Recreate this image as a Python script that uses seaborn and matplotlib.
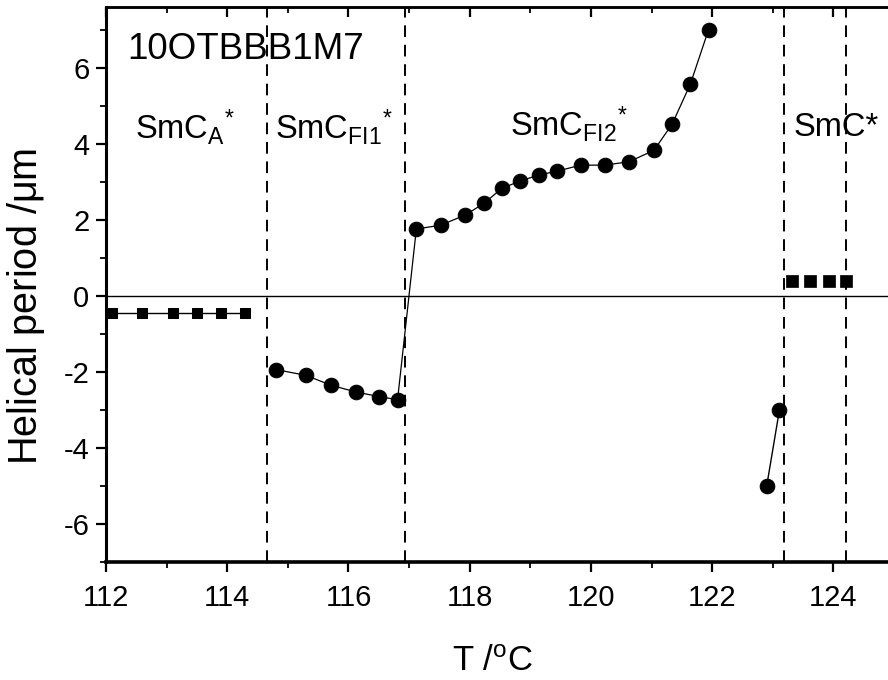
import matplotlib
matplotlib.use("Agg")
import matplotlib.pyplot as plt
import seaborn as sns

sns.set_style("ticks", {'text.color': 'black', 'axes.labelcolor': 'black',
                        'xtick.color': 'black', 'ytick.color': 'black',
                        'axes.edgecolor': 'black'})
plt.rcParams['font.family'] = ['Liberation Sans', 'DejaVu Sans']
plt.rcParams['mathtext.fontset'] = 'custom'
plt.rcParams['mathtext.rm'] = 'Liberation Sans'
plt.rcParams['mathtext.it'] = 'Liberation Sans'

# Data
smca_T = [112.1, 112.6, 113.1, 113.5, 113.9, 114.3]
smca_p = [-0.45, -0.45, -0.45, -0.45, -0.45, -0.45]

fi_T = [114.81, 115.30, 115.71, 116.13, 116.51, 116.81,
        117.12, 117.52, 117.93, 118.24, 118.53, 118.83, 119.14, 119.44,
        119.83, 120.23, 120.63, 121.04, 121.34, 121.64, 121.94]
fi_p = [-1.94, -2.09, -2.35, -2.53, -2.65, -2.73,
        1.76, 1.86, 2.13, 2.44, 2.83, 3.02, 3.18, 3.28,
        3.44, 3.44, 3.53, 3.83, 4.52, 5.57, 7.00]

c2_T = [122.90, 123.11]
c2_p = [-5.0, -3.0]

smc_T = [123.31, 123.61, 123.92, 124.21]
smc_p = [0.38, 0.38, 0.38, 0.38]

boundaries = [114.66, 116.93, 123.19, 124.21]

xticks = [112, 114, 116, 118, 120, 122, 124]
yticks = [-6, -4, -2, 0, 2, 4, 6]

fig = plt.figure(figsize=(8.88, 6.8), dpi=100)
ax = fig.add_axes([106/888, 1-562/680, 788/888, (562-7)/680])

sns.lineplot(x=smca_T, y=smca_p, ax=ax, marker='s', markersize=6.5, color='black',
             linewidth=1.0, markeredgecolor='black', estimator=None, sort=False)
sns.lineplot(x=fi_T, y=fi_p, ax=ax, marker='o', markersize=10.5, color='black',
             linewidth=0.9, markeredgecolor='black', estimator=None, sort=False)
sns.lineplot(x=c2_T, y=c2_p, ax=ax, marker='o', markersize=10.5, color='black',
             linewidth=1.0, markeredgecolor='black', estimator=None, sort=False)
sns.scatterplot(x=smc_T, y=smc_p, ax=ax, marker='s', s=75, color='black',
                edgecolor='black', linewidth=0.5)

for b in boundaries:
    ax.axvline(b, color='black', linestyle=(0, (6, 4)), linewidth=1.4, zorder=1)
ax.axhline(0, color='black', linewidth=1.0, zorder=1)

ax.set_xlim(112, 125)
ax.set_ylim(-7, 7.6)
ax.set_xticks(xticks)
ax.set_xticklabels([str(t) for t in xticks], fontsize=21)
ax.set_yticks(yticks)
ax.set_yticklabels([str(t) for t in yticks], fontsize=21)
ax.set_xticks([113, 115, 117, 119, 121, 123], minor=True)
ax.set_yticks([-7, -5, -3, -1, 1, 3, 5, 7], minor=True)
ax.tick_params(axis='both', which='major', direction='out', length=7, width=1.6)
ax.tick_params(axis='x', which='major', pad=9)
ax.tick_params(axis='y', which='major', pad=5)
ax.tick_params(axis='both', which='minor', direction='out', length=4, width=1.3)
ax.tick_params(axis='y', which='both', right=True, labelright=False)

sec = ax.secondary_xaxis('top')
sec.set_xticks(xticks)
sec.set_xticks([113, 115, 117, 119, 121, 123], minor=True)
sec.tick_params(which='major', direction='in', length=7, width=1.6, labeltop=False)
sec.tick_params(which='minor', direction='in', length=4, width=1.3)
sec.spines['top'].set_linewidth(1.8)

for s in ['left', 'bottom', 'top', 'right']:
    ax.spines[s].set_linewidth(1.8)
ax.spines['bottom'].set_linewidth(2.6)
ax.spines['left'].set_linewidth(2.2)

ax.set_xlabel(r'T /$^{\mathregular{o}}$C', fontsize=25)
ax.xaxis.set_label_coords((493-106)/788, (562-645)/555)
ax.set_ylabel(r'Helical period /$\mathregular{\mu}$m', fontsize=28.5)
ax.yaxis.set_label_coords((47-106)/788, (562-306)/555)

ax.text(112.35, 6.24, '10OTBBB1M7', fontsize=26.5, ha='left', va='baseline')
ax.text(112.48, 4.13, r'SmC$_\mathregular{A}$$^\mathregular{*}$', fontsize=23.5, ha='left', va='baseline')
ax.text(114.79, 4.13, r'SmC$_\mathregular{FI1}$$^\mathregular{*}$', fontsize=23.5, ha='left', va='baseline')
ax.text(118.67, 4.21, r'SmC$_\mathregular{FI2}$$^\mathregular{*}$', fontsize=23.5, ha='left', va='baseline')
ax.text(123.34, 4.21, 'SmC*', fontsize=23.5, ha='left', va='baseline')

fig.savefig('out.png', dpi=100)
